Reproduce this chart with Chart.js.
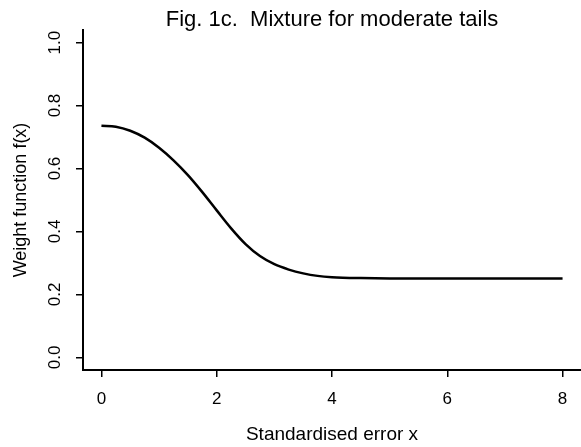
<!DOCTYPE html>
<html>
<head>
<meta charset="utf-8">
<script src="https://cdn.jsdelivr.net/npm/chart.js@4/dist/chart.umd.min.js"></script>
<style>
  html, body { margin: 0; padding: 0; background: #fff; }
  #wrap { width: 581px; height: 447px; }
</style>
</head>
<body>
<div id="wrap"><canvas id="c" width="581" height="447"></canvas></div>
<script>
// weight function
const xValues = [0, 0.25, 0.5, 0.75, 1, 1.25, 1.5, 1.75, 2, 2.25, 2.5, 2.75, 3, 3.25, 3.5, 3.75, 4, 4.5, 5, 6, 7, 8];
const fValues = [0.736, 0.733, 0.72, 0.698, 0.666, 0.626, 0.579, 0.525, 0.467, 0.41, 0.36, 0.322, 0.296, 0.279, 0.267, 0.259, 0.255, 0.252, 0.251, 0.251, 0.251, 0.251];
const xTicks = [0, 2, 4, 6, 8];
const yTicks = [0, 0.2, 0.4, 0.6, 0.8, 1.0];

const FONT = "'Liberation Sans', Arial, Helvetica, sans-serif";

new Chart(document.getElementById("c"), {
  type: "line",
  data: {
    datasets: [{
      data: xValues.map((x, i) => ({ x, y: fValues[i] })),
      borderColor: "#000",
      borderWidth: 2.5,
      pointRadius: 0,
      cubicInterpolationMode: "monotone",
      fill: false
    }]
  },
  options: {
    responsive: false,
    animation: false,
    layout: { padding: 0 },
    plugins: {
      legend: { display: false },
      tooltip: { enabled: false },
      title: {
        display: true,
        fullSize: false,
        text: "Fig. 1c.  Mixture for moderate tails",
        color: "#000",
        font: { family: FONT, size: 22, weight: "normal", lineHeight: 0.9 },
        padding: { top: 10, bottom: 0.2 }
      }
    },
    scales: {
      x: {
        type: "linear",
        min: -0.32, max: 8.32,
        afterFit: s => { s.height = 77; },
        afterBuildTicks: s => { s.ticks = xTicks.map(v => ({ value: v })); },
        border: { display: true, color: "#000", width: 2 },
        grid: { drawOnChartArea: false, color: "#000", lineWidth: 1.5, tickLength: 7 },
        ticks: {
          color: "#000", padding: 12, maxRotation: 0,
          font: { family: FONT, size: 17 },
          callback: v => String(v)
        },
        title: {
          display: true, text: "Standardised error x", color: "#000",
          font: { family: FONT, size: 19 }, padding: { top: 0, bottom: 1 }
        }
      },
      y: {
        type: "linear",
        min: -0.04, max: 1.04,
        afterFit: s => { s.width = 83; },
        afterBuildTicks: s => { s.ticks = yTicks.map(v => ({ value: v })); },
        border: { display: true, color: "#000", width: 2 },
        grid: { drawOnChartArea: false, color: "#000", lineWidth: 1.5, tickLength: 7 },
        ticks: {
          color: "#000", padding: 9, minRotation: 90, maxRotation: 90,
          crossAlign: "center",
          font: { family: FONT, size: 17 },
          callback: v => v.toFixed(1)
        },
        title: {
          display: true, text: "Weight function f(x)", color: "#000",
          font: { family: FONT, size: 18 }, padding: { top: 10, bottom: 0 }
        }
      }
    }
  }
});
</script>
</body>
</html>
